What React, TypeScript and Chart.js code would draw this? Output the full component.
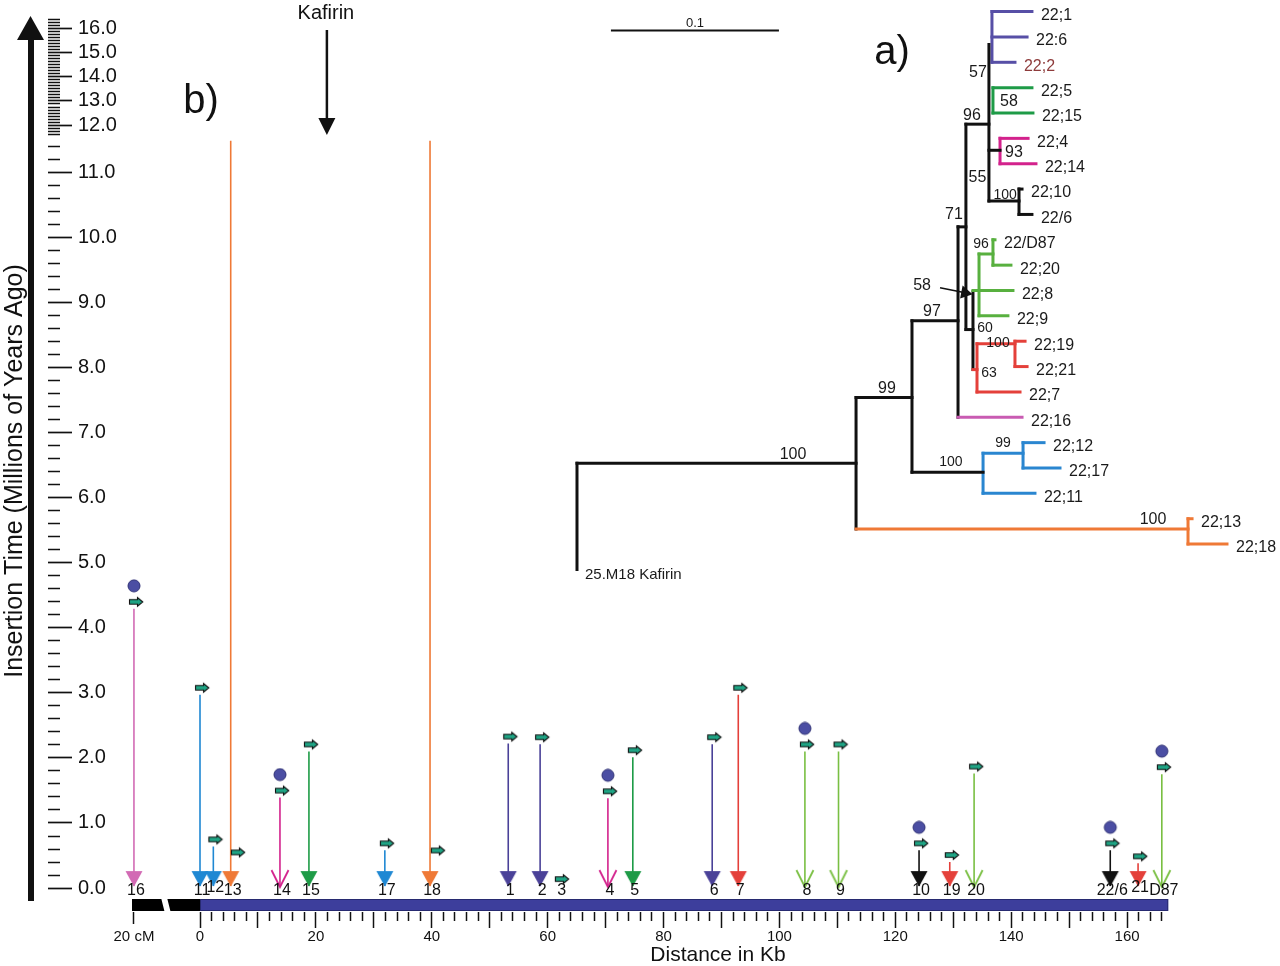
import React, { useEffect, useRef } from 'react';
import { Chart, registerables, LinearScale } from 'chart.js';

const FONT = "'Liberation Sans', Arial, Helvetica, sans-serif";

// ---------------- panel b : insertions along the chromosome ----------------
const ELEMENT_IDS = ['16', '11', '12', '13', '14', '15', '17', '18', '1', '2', '3', '4', '5', '6', '7', '8', '9', '10', '19', '20', '22/6', '21', 'D87'];
const ELEMENT_KB = [-11.4, 0, 2.3, 5.3, 13.8, 18.8, 31.9, 39.7, 53.2, 58.7, 62.1, 70.4, 74.7, 88.4, 92.9, 104.4, 110.2, 124.1, 129.4, 133.6, 157.1, 161.9, 166.0];
const INSERTION_MYA = [4.29, 2.97, 0.64, 0.44, 1.39, 2.10, 0.58, 0.47, 2.22, 2.21, 0.03, 1.38, 2.01, 2.21, 2.97, 2.10, 2.10, 0.58, 0.40, 1.76, 0.58, 0.38, 1.75];
const SHAFT_TOP_MYA = [4.29, 2.97, 0.64, 11.5, 1.39, 2.10, 0.58, 11.5, 2.22, 2.21, null, 1.38, 2.01, 2.21, 2.97, 2.10, 2.10, 0.58, 0.40, 1.76, 0.58, 0.38, 1.75];
const ICON_KB = [-11.4, 0, 2.3, 6.2, 13.8, 18.8, 31.9, 40.7, 53.2, 58.7, 62.1, 70.4, 74.7, 88.4, 92.9, 104.4, 110.2, 124.1, 129.4, 133.6, 157.1, 161.9, 166.0];
const ELEMENT_CLADE = ['pink', 'blue', 'blue', 'orange', 'magenta', 'green', 'blue', 'orange', 'purple', 'purple', 'none', 'magenta', 'green', 'purple', 'red', 'lime', 'lime', 'black', 'red', 'lime', 'black', 'red', 'lime'];
const HEAD_KIND = ['solid', 'solid', 'solid', 'solid', 'open', 'solid', 'solid', 'solid', 'solid', 'solid', 'none', 'open', 'solid', 'solid', 'solid', 'open', 'open', 'solid', 'solid', 'open', 'solid', 'solid', 'open'];
const SOLO_LTR = [true, false, false, false, true, false, false, false, false, false, false, true, false, false, false, true, false, true, false, false, true, false, true];

const CHROMOSOME_KB = 167.1;
const CM_SEGMENT_KB = [-11.74, -5.8];
const CM_TICK_KB = -11.4;
const KAFIRIN_KB = 21.9;

const X_LABELED_KB = [0, 20, 40, 60, 80, 100, 120, 140, 160];
const Y_MAJOR_MYA = [0, 1, 2, 3, 4, 5, 6, 7, 8, 9, 10, 11, 12, 13, 14, 15, 16];

// ---------------- panel a : neighbour-joining tree ----------------
const LEAF_NAMES = ['22;1', '22:6', '22;2', '22;5', '22;15', '22;4', '22;14', '22;10', '22/6', '22/D87', '22;20', '22;8', '22;9', '22;19', '22;21', '22;7', '22;16', '22;12', '22;17', '22;11', '22;13', '22;18'];
const LEAF_TIP = [0.2708, 0.2679, 0.2607, 0.2708, 0.2714, 0.2685, 0.2732, 0.2649, 0.2708, 0.2488, 0.2583, 0.2595, 0.2565, 0.2667, 0.2679, 0.2637, 0.2649, 0.2780, 0.2875, 0.2726, 0.3661, 0.3869];
const OUTGROUP_NAME = '25.M18 Kafirin';
const OUTGROUP_ROW = 22;

// horizontal branches: [from, to, row, clade]
const TREE_H: [number, number, number, string][] = [
  [0, 0.1661, 17.81, 'black'],
  [0.1661, 0.3637, 20.41, 'orange'],
  [0.3637, 0.3661, 20, 'orange'],
  [0.3637, 0.3869, 21, 'orange'],
  [0.1661, 0.1994, 15.22, 'black'],
  [0.1994, 0.2417, 18.17, 'black'],
  [0.2417, 0.2655, 17.42, 'blue'],
  [0.2655, 0.2780, 17, 'blue'],
  [0.2655, 0.2875, 18, 'blue'],
  [0.2417, 0.2726, 19, 'blue'],
  [0.1994, 0.2268, 12.19, 'black'],
  [0.2268, 0.2649, 16, 'pink'],
  [0.2268, 0.2315, 8.49, 'black'],
  [0.2315, 0.2452, 4.44, 'black'],
  [0.2470, 0.2708, 0, 'purple'],
  [0.2470, 0.2679, 1, 'purple'],
  [0.2470, 0.2607, 2, 'purple'],
  [0.2476, 0.2708, 3, 'green'],
  [0.2476, 0.2714, 4, 'green'],
  [0.2452, 0.2518, 5.47, 'black'],
  [0.2518, 0.2685, 5, 'magenta'],
  [0.2518, 0.2732, 6, 'magenta'],
  [0.2452, 0.2631, 7.47, 'black'],
  [0.2631, 0.2649, 7, 'black'],
  [0.2631, 0.2708, 8, 'black'],
  [0.2315, 0.2357, 12.54, 'black'],
  [0.2393, 0.2476, 9.56, 'lime'],
  [0.2476, 0.2488, 9, 'lime'],
  [0.2476, 0.2583, 10, 'lime'],
  [0.2357, 0.2595, 11, 'lime'],
  [0.2393, 0.2565, 12, 'lime'],
  [0.2357, 0.2381, 14.12, 'red'],
  [0.2381, 0.2607, 13.1, 'red'],
  [0.2607, 0.2667, 13, 'red'],
  [0.2607, 0.2679, 14, 'red'],
  [0.2381, 0.2637, 15, 'red'],
];
// vertical links: [x, fromRow, toRow, clade]
const TREE_V: [number, number, number, string][] = [
  [0, 17.81, 22, 'black'],
  [0.1661, 15.22, 20.41, 'black'],
  [0.3637, 20, 21, 'orange'],
  [0.1994, 12.19, 18.17, 'black'],
  [0.2417, 17.42, 19, 'blue'],
  [0.2655, 17, 18, 'blue'],
  [0.2268, 8.49, 16, 'black'],
  [0.2315, 4.44, 12.54, 'black'],
  [0.2452, 1.3, 7.47, 'black'],
  [0.2470, 0, 2, 'purple'],
  [0.2476, 3, 4, 'green'],
  [0.2518, 5, 6, 'magenta'],
  [0.2631, 7, 8, 'black'],
  [0.2357, 11.05, 14.12, 'black'],
  [0.2393, 9.56, 12, 'lime'],
  [0.2476, 9, 10, 'lime'],
  [0.2381, 13.1, 15, 'red'],
  [0.2607, 13, 14, 'red'],
];
// bootstrap support: [label, x, row, small]
const SUPPORT: [string, number, number, number][] = [
  ['100', 0.1286, 17.46, 0],
  ['100', 0.3429, 20.05, 0],
  ['99', 0.1845, 14.86, 0],
  ['100', 0.2226, 17.77, 1],
  ['99', 0.2536, 17.03, 1],
  ['97', 0.2113, 11.84, 0],
  ['71', 0.2244, 8.02, 0],
  ['96', 0.2351, 4.09, 0],
  ['57', 0.2387, 2.40, 0],
  ['58', 0.2571, 3.54, 0],
  ['93', 0.2601, 5.58, 0],
  ['55', 0.2384, 6.53, 0],
  ['100', 0.2548, 7.24, 1],
  ['96', 0.2405, 9.16, 1],
  ['58', 0.2054, 10.81, 0],
  ['60', 0.2429, 12.50, 1],
  ['100', 0.2506, 13.06, 1],
  ['63', 0.2452, 14.27, 1],
];
const POINTER_58 = [[0.2161, 10.89], [0.2310, 11.09]];
const SCALE_BAR = { start: 0.0202, length: 0.1, row: 0.75, label: '0.1' };

// ---------------- styles ----------------
const CLADE_COLOR: Record<string, string> = {
  pink: '#d26ab4', blue: '#1f88d3', orange: '#ef7936', magenta: '#d3228c', green: '#1e9b47',
  purple: '#4a4198', red: '#e4403a', lime: '#79bf42', black: '#111111', none: '#111111',
};
const TREE_COLOR: Record<string, string> = {
  ...CLADE_COLOR, purple: '#574fa6', lime: '#58b03f', pink: '#c95bb2', blue: '#2a86d0',
};
const RAISED_LABELS = new Set(['12', '21']);

// axis ranges (chart area 48..1270 x 5..912)
const X_MIN = -26.234, X_MAX = 184.67;
const Y_MIN = -0.3677, Y_MAX = 16.865;
const TX_MIN = -0.31488, TX_MAX = 0.4125;
const TY_MIN = -0.157, TY_MAX = 35.51;
// broken (piecewise linear) time axis: [value, linear-equivalent]
const Y_KNOTS: [number, number][] = [[0, 0], [11.4, 11.4], [11.625, 11.583], [16, 13.207]];

function mapKnots(v: number, a: number, b: number) {
  const k = Y_KNOTS;
  let i = 0;
  while (i < k.length - 2 && v > k[i + 1][a]) i++;
  const p = k[i], q = k[i + 1];
  return p[b] + ((v - p[a]) * (q[b] - p[b])) / (q[a] - p[a]);
}

class BrokenScale extends LinearScale {
  static id = 'broken';
  getPixelForValue(value: any) {
    if (value === null || value === undefined || isNaN(value)) return NaN;
    const a = mapKnots(this.min, 0, 1);
    const b = mapKnots(this.max, 0, 1);
    return this.getPixelForDecimal((mapKnots(value, 0, 1) - a) / (b - a));
  }
  getValueForPixel(pixel: number) {
    const a = mapKnots(this.min, 0, 1);
    const b = mapKnots(this.max, 0, 1);
    return mapKnots(a + this.getDecimalForPixel(pixel) * (b - a), 1, 0);
  }
}

Chart.register(...registerables, BrokenScale as any);

function buildYTicks() {
  const t: number[] = [];
  for (let i = 0; i <= 57; i++) t.push(Math.round(i * 0.2 * 1000) / 1000);
  for (let i = 0; i <= 38; i++) t.push(Math.round((11.625 + i * 0.125) * 1000) / 1000);
  return t;
}
function buildXTicks() {
  const t: number[] = [CM_TICK_KB];
  for (let v = 0; v <= 166; v += 2) t.push(v);
  return t;
}
const isYMajor = (v: number) => Y_MAJOR_MYA.some((m) => Math.abs(m - v) < 1e-6);

function makeCanvas(w: number, h: number, draw: (g: CanvasRenderingContext2D) => void) {
  const c = document.createElement('canvas');
  c.width = w;
  c.height = h;
  const g = c.getContext('2d')!;
  draw(g);
  return c;
}

function headImage(kind: string, color: string) {
  return makeCanvas(24, 40, (g) => {
    if (kind === 'solid') {
      g.fillStyle = color;
      g.beginPath();
      g.moveTo(3.5, 3);
      g.lineTo(20.5, 3);
      g.lineTo(12, 18.5);
      g.closePath();
      g.fill();
    } else {
      g.strokeStyle = color;
      g.lineWidth = 1.8;
      g.beginPath();
      g.moveTo(3.5, 2);
      g.lineTo(12, 19);
      g.lineTo(20.5, 2);
      g.stroke();
    }
  });
}

function iconImage() {
  return makeCanvas(28, 30, (g) => {
    g.translate(16, 8);
    g.beginPath();
    g.moveTo(-6.5, -2.2);
    g.lineTo(1.5, -2.2);
    g.lineTo(1.5, -4.3);
    g.lineTo(6.8, 0);
    g.lineTo(1.5, 4.3);
    g.lineTo(1.5, 2.2);
    g.lineTo(-6.5, 2.2);
    g.closePath();
    g.fillStyle = '#1fa585';
    g.fill();
    g.strokeStyle = '#111';
    g.lineWidth = 1.1;
    g.stroke();
  });
}

function circleImage() {
  return makeCanvas(20, 60, (g) => {
    g.beginPath();
    g.arc(10, 7, 6, 0, Math.PI * 2);
    g.fillStyle = '#4b4ea3';
    g.fill();
    g.strokeStyle = '#2d2f74';
    g.lineWidth = 1;
    g.stroke();
  });
}

const extras = {
  id: 'extras',
  beforeDatasetsDraw(chart: any) {
    const { ctx, chartArea } = chart;
    const xs = chart.scales.x;
    const top = chartArea.bottom - 13;
    const bot = chartArea.bottom - 1;
    const x0 = xs.getPixelForValue(0);
    const x1 = xs.getPixelForValue(CHROMOSOME_KB);
    ctx.save();
    ctx.fillStyle = '#3d3e9c';
    ctx.fillRect(x0, top, x1 - x0, bot - top);
    ctx.strokeStyle = '#272a70';
    ctx.lineWidth = 1;
    ctx.strokeRect(x0 + 0.5, top + 0.5, x1 - x0 - 1, bot - top - 1);
    const a = xs.getPixelForValue(CM_SEGMENT_KB[0]);
    const b = xs.getPixelForValue(CM_SEGMENT_KB[1]);
    ctx.fillStyle = '#000';
    ctx.beginPath();
    ctx.moveTo(a, top); ctx.lineTo(b - 5, top); ctx.lineTo(b - 2, bot); ctx.lineTo(a, bot);
    ctx.closePath(); ctx.fill();
    ctx.beginPath();
    ctx.moveTo(b + 1, top); ctx.lineTo(x0, top); ctx.lineTo(x0, bot); ctx.lineTo(b + 4, bot);
    ctx.closePath(); ctx.fill();
    ctx.restore();
  },
  afterDatasetsDraw(chart: any) {
    const { ctx } = chart;
    const xs = chart.scales.x, ys = chart.scales.y, tx = chart.scales.tx, ty = chart.scales.ty;
    ctx.save();
    ctx.fillStyle = '#111';
    ctx.strokeStyle = '#111';

    // time axis arrow
    ctx.fillRect(28, 39, 6, 862);
    ctx.beginPath();
    ctx.moveTo(17, 40); ctx.lineTo(44, 40); ctx.lineTo(30.5, 16); ctx.closePath(); ctx.fill();

    // axis titles
    ctx.save();
    ctx.translate(15, 471);
    ctx.rotate(-Math.PI / 2);
    ctx.font = `25px ${FONT}`;
    ctx.textAlign = 'center';
    ctx.textBaseline = 'middle';
    ctx.fillText('Insertion Time (Millions of Years Ago)', 0, 0);
    ctx.restore();
    ctx.font = `21px ${FONT}`;
    ctx.textAlign = 'center';
    ctx.textBaseline = 'middle';
    ctx.fillText('Distance in Kb', 718, 955);

    // panel letters
    ctx.font = `40px ${FONT}`;
    ctx.textBaseline = 'alphabetic';
    ctx.fillText('a)', 892, 64);
    ctx.fillText('b)', 201, 113);

    // Kafirin marker
    const kx = xs.getPixelForValue(KAFIRIN_KB);
    ctx.font = `20px ${FONT}`;
    ctx.textBaseline = 'middle';
    ctx.fillText('Kafirin', kx - 1, 13);
    ctx.lineWidth = 2.5;
    ctx.beginPath(); ctx.moveTo(kx, 30); ctx.lineTo(kx, 120); ctx.stroke();
    ctx.beginPath(); ctx.moveTo(kx - 8.5, 118); ctx.lineTo(kx + 8.5, 118); ctx.lineTo(kx, 135); ctx.closePath(); ctx.fill();

    // element labels
    ctx.font = `16px ${FONT}`;
    ctx.textAlign = 'center';
    ctx.textBaseline = 'middle';
    const y0 = ys.getPixelForValue(0);
    ELEMENT_IDS.forEach((id, i) => {
      const x = xs.getPixelForValue(ELEMENT_KB[i]) + 2;
      ctx.fillText(id, x, y0 + 3 - (RAISED_LABELS.has(id) ? 3 : 0));
    });

    // tree leaf labels
    ctx.textAlign = 'left';
    LEAF_NAMES.forEach((name, i) => {
      ctx.fillStyle = name === '22;2' ? '#8e3b3b' : '#1a1a1a';
      ctx.fillText(name, tx.getPixelForValue(LEAF_TIP[i]) + 9, ty.getPixelForValue(i) + 4);
    });
    ctx.fillStyle = '#1a1a1a';
    ctx.font = `15px ${FONT}`;
    ctx.fillText(OUTGROUP_NAME, tx.getPixelForValue(0) + 8, ty.getPixelForValue(OUTGROUP_ROW) + 5);

    // bootstrap values
    ctx.textAlign = 'center';
    SUPPORT.forEach(([t, x, r, small]) => {
      ctx.font = `${small ? 14 : 16}px ${FONT}`;
      ctx.fillText(t, tx.getPixelForValue(x), ty.getPixelForValue(r));
    });

    // scale bar label
    ctx.font = `13px ${FONT}`;
    ctx.fillText(
      SCALE_BAR.label,
      tx.getPixelForValue(SCALE_BAR.start + SCALE_BAR.length / 2),
      ty.getPixelForValue(SCALE_BAR.row) - 7,
    );
    ctx.restore();
  },
};

export default function App() {
  const ref = useRef<HTMLCanvasElement>(null);
  useEffect(() => {
    if (!ref.current) return;
    const heads = ELEMENT_IDS.map((_, i) =>
      HEAD_KIND[i] === 'none' ? 'circle' : headImage(HEAD_KIND[i], CLADE_COLOR[ELEMENT_CLADE[i]]),
    );
    const icon = iconImage();
    const dot = circleImage();

    const datasets: any[] = [];
    datasets.push({
      type: 'line', showLine: false, xAxisID: 'x', yAxisID: 'y',
      data: ELEMENT_KB.map((kb) => ({ x: kb, y: 0 })),
      pointStyle: heads,
      pointRadius: HEAD_KIND.map((k) => (k === 'none' ? 0 : 4)),
    });
    datasets.push({
      type: 'line', showLine: false, xAxisID: 'x', yAxisID: 'y',
      data: ICON_KB.map((kb, i) => ({ x: kb, y: INSERTION_MYA[i] })),
      pointStyle: icon, pointRadius: 4,
    });
    datasets.push({
      type: 'line', showLine: false, xAxisID: 'x', yAxisID: 'y',
      data: ELEMENT_KB.map((kb, i) => ({ x: kb, y: INSERTION_MYA[i] })).filter((_, i) => SOLO_LTR[i]),
      pointStyle: dot, pointRadius: 4,
    });
    ELEMENT_IDS.forEach((_, i) => {
      const top = SHAFT_TOP_MYA[i];
      if (top === null) return;
      datasets.push({
        type: 'line', xAxisID: 'x', yAxisID: 'y',
        data: [{ x: ELEMENT_KB[i], y: top }, { x: ELEMENT_KB[i], y: 0.03 }],
        borderColor: CLADE_COLOR[ELEMENT_CLADE[i]], borderWidth: 1.6, pointRadius: 0,
        borderCapStyle: 'butt',
      });
    });
    // pointer to node 58
    datasets.push({
      type: 'line', xAxisID: 'tx', yAxisID: 'ty', clip: false,
      data: POINTER_58.map(([x, y]) => ({ x, y })),
      borderColor: '#111', borderWidth: 1.6,
      pointRadius: [0, 6], pointStyle: 'triangle', pointRotation: [0, 101],
      pointBackgroundColor: '#111', pointBorderColor: '#111',
    });
    // scale bar
    datasets.push({
      type: 'line', xAxisID: 'tx', yAxisID: 'ty', clip: false,
      data: [
        { x: SCALE_BAR.start, y: SCALE_BAR.row },
        { x: SCALE_BAR.start + SCALE_BAR.length, y: SCALE_BAR.row },
      ],
      borderColor: '#111', borderWidth: 2, pointRadius: 0,
    });
    // tree
    TREE_H.forEach(([x0, x1, r, c]) => {
      datasets.push({
        type: 'line', xAxisID: 'tx', yAxisID: 'ty', clip: false,
        data: [{ x: x0, y: r }, { x: x1, y: r }],
        borderColor: TREE_COLOR[c], borderWidth: 3, pointRadius: 0, borderCapStyle: 'square',
      });
    });
    TREE_V.forEach(([x, r0, r1, c]) => {
      datasets.push({
        type: 'line', xAxisID: 'tx', yAxisID: 'ty', clip: false,
        data: [{ x, y: r0 }, { x, y: r1 }],
        borderColor: TREE_COLOR[c], borderWidth: 3, pointRadius: 0, borderCapStyle: 'square',
      });
    });

    const yTicks = buildYTicks();
    const xTicks = buildXTicks();

    const chart = new Chart(ref.current, {
      type: 'line',
      data: { datasets },
      plugins: [extras],
      options: {
        responsive: false,
        devicePixelRatio: 1,
        animation: false,
        events: [],
        layout: { padding: { top: 5, right: 10, bottom: 0, left: 0 } },
        plugins: { legend: { display: false }, tooltip: { enabled: false } },
        scales: {
          x: {
            type: 'linear', position: 'bottom', min: X_MIN, max: X_MAX,
            border: { display: false },
            grid: {
              display: true, drawOnChartArea: false, drawTicks: true, tickLength: 16,
              tickWidth: 1.5, tickColor: '#111',
              tickBorderDash: (c: any) => {
                const v = c.tick ? c.tick.value : 0;
                if (Math.abs(v - CM_TICK_KB) < 1e-6) return [12, 100];
                return Math.abs(v % 10) < 1e-6 ? [] : [9, 100];
              },
            },
            ticks: {
              autoSkip: false, maxRotation: 0, minRotation: 0, padding: 0, color: '#111',
              font: { family: FONT, size: 15 },
              callback: (v: any) => {
                const n = Number(v);
                if (Math.abs(n - CM_TICK_KB) < 1e-6) return '20 cM';
                return X_LABELED_KB.includes(n) ? String(n) : '';
              },
            },
            afterBuildTicks: (s: any) => { s.ticks = xTicks.map((value) => ({ value })); },
            afterFit: (s: any) => {
              s.height = 54;
              s.paddingLeft = 0; s.paddingRight = 0; s.paddingTop = 0; s.paddingBottom = 0;
            },
          },
          y: {
            type: 'broken' as any, position: 'left', min: Y_MIN, max: Y_MAX,
            border: { display: false },
            grid: {
              display: true, drawOnChartArea: false, drawTicks: true, tickLength: -24,
              tickColor: '#111',
              tickWidth: (c: any) => (c.tick && c.tick.value > 11.5 && !isYMajor(c.tick.value) ? 1.3 : 1.7),
              tickBorderDash: (c: any) => (c.tick && isYMajor(c.tick.value) ? [] : [0, 12, 12, 100]),
            },
            ticks: {
              autoSkip: false, mirror: true, padding: 30, color: '#111',
              font: { family: FONT, size: 20 },
              callback: (v: any) => (isYMajor(Number(v)) ? Number(v).toFixed(1) : ''),
            },
            afterBuildTicks: (s: any) => { s.ticks = yTicks.map((value) => ({ value })); },
            afterFit: (s: any) => {
              s.width = 48;
              s.paddingLeft = 0; s.paddingRight = 0; s.paddingTop = 0; s.paddingBottom = 0;
            },
          },
          tx: { type: 'linear', display: false, min: TX_MIN, max: TX_MAX },
          ty: { type: 'linear', display: false, reverse: true, min: TY_MIN, max: TY_MAX },
        },
      } as any,
    });
    return () => chart.destroy();
  }, []);

  return (
    <div style={{ position: 'absolute', left: 0, top: 0, width: 1280, height: 966, background: '#fff' }}>
      <canvas ref={ref} width={1280} height={966} style={{ display: 'block' }} />
    </div>
  );
}
